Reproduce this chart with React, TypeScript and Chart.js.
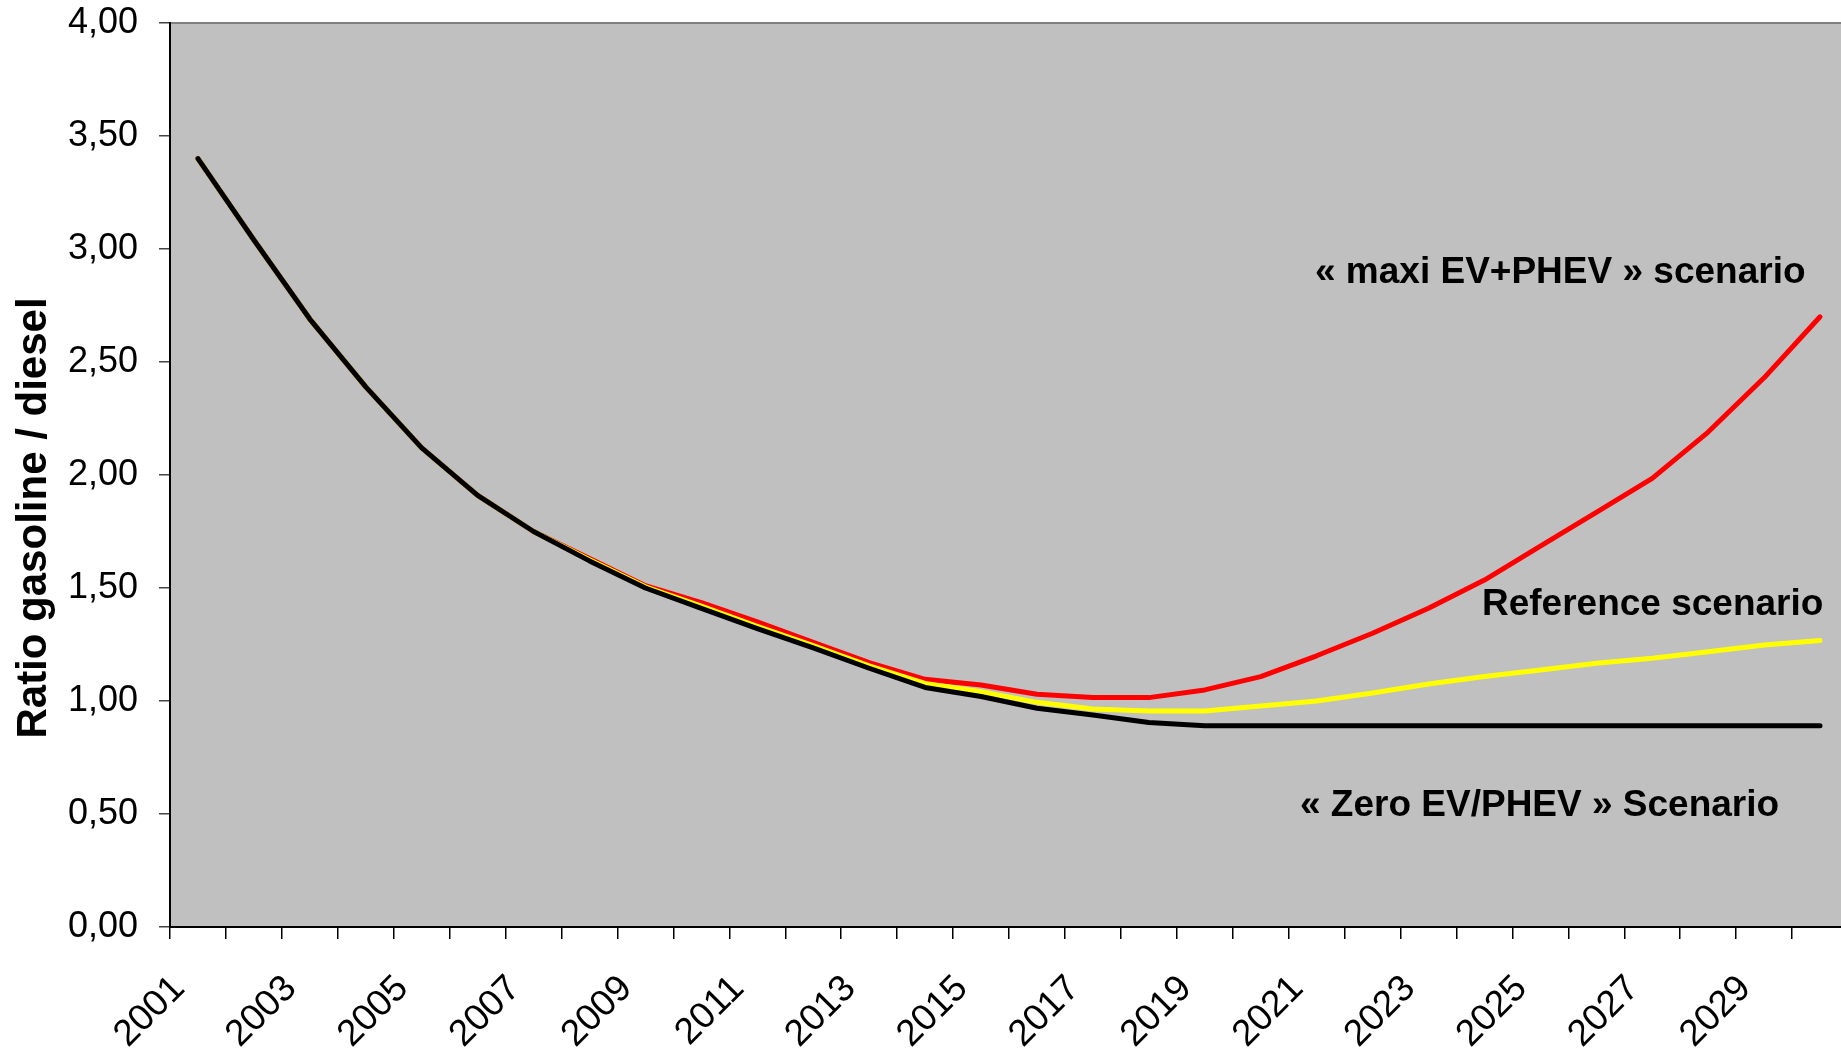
import React, { useEffect, useRef } from "react";
import { Chart, registerables } from "chart.js";

Chart.register(...registerables);

const years = [
  "2001", "2002", "2003", "2004", "2005", "2006", "2007", "2008", "2009", "2010",
  "2011", "2012", "2013", "2014", "2015", "2016", "2017", "2018", "2019", "2020",
  "2021", "2022", "2023", "2024", "2025", "2026", "2027", "2028", "2029", "2030",
];

const zeroScenario = [
  3.40, 3.04, 2.69, 2.39, 2.12, 1.91, 1.75, 1.62, 1.50, 1.41,
  1.32, 1.235, 1.145, 1.06, 1.02, 0.968, 0.938, 0.905, 0.89, 0.89,
  0.89, 0.89, 0.89, 0.89, 0.89, 0.89, 0.89, 0.89, 0.89, 0.89,
];

const referenceScenario = [
  3.40, 3.04, 2.69, 2.39, 2.12, 1.91, 1.75, 1.625, 1.505, 1.42,
  1.33, 1.245, 1.155, 1.078, 1.041, 0.994, 0.965, 0.956, 0.956, 0.978,
  1.00, 1.035, 1.075, 1.108, 1.137, 1.167, 1.189, 1.218, 1.248, 1.268,
];

const maxiScenario = [
  3.40, 3.04, 2.69, 2.39, 2.12, 1.91, 1.75, 1.63, 1.51, 1.435,
  1.35, 1.26, 1.17, 1.096, 1.071, 1.03, 1.016, 1.015, 1.049, 1.108,
  1.20, 1.30, 1.41, 1.535, 1.685, 1.835, 1.985, 2.19, 2.43, 2.70,
];

const yAxisTitle = "Ratio gasoline / diesel";
const labelMaxi = "\u00AB maxi EV+PHEV \u00BB scenario";
const labelReference = "Reference scenario";
const labelZero = "\u00AB Zero EV/PHEV \u00BB Scenario";

const FONT = "'Liberation Sans', Arial, sans-serif";
const CANVAS_W = 1848;
const CANVAS_H = 1054;

const decorPlugin = {
  id: "decor",
  beforeDraw(chart: any) {
    const { ctx, chartArea } = chart;
    ctx.save();
    ctx.fillStyle = "#C0C0C0";
    ctx.fillRect(chartArea.left, chartArea.top, chartArea.right - chartArea.left, chartArea.bottom - chartArea.top);
    ctx.strokeStyle = "#808080";
    ctx.lineWidth = 2;
    ctx.beginPath();
    ctx.moveTo(chartArea.left, chartArea.top);
    ctx.lineTo(chartArea.right, chartArea.top);
    ctx.stroke();
    ctx.restore();
  },
  afterDraw(chart: any) {
    const { ctx, chartArea } = chart;
    ctx.save();
    ctx.fillStyle = "#000";
    ctx.font = `bold 42px ${FONT}`;
    ctx.textAlign = "center";
    ctx.textBaseline = "alphabetic";
    ctx.translate(46, (chartArea.top + chartArea.bottom) / 2 + 43);
    ctx.rotate(-Math.PI / 2);
    ctx.fillText(yAxisTitle, 0, 0);
    ctx.restore();

    ctx.save();
    ctx.fillStyle = "#000";
    ctx.font = `bold 37px ${FONT}`;
    ctx.textAlign = "left";
    ctx.textBaseline = "alphabetic";
    ctx.fillText(labelMaxi, 1315, 283);
    ctx.fillText(labelReference, 1482, 615);
    ctx.fillText(labelZero, 1300, 816);
    ctx.restore();
  },
};

export default function App() {
  const canvasRef = useRef<HTMLCanvasElement | null>(null);

  useEffect(() => {
    if (!canvasRef.current) return;
    const lineStyle = {
      borderWidth: 5,
      pointRadius: 0,
      tension: 0,
      borderCapStyle: "round" as const,
      borderJoinStyle: "round" as const,
      fill: false,
    };
    const chart = new Chart(canvasRef.current, {
      type: "line",
      data: {
        labels: years,
        datasets: [
          { label: "Zero", data: zeroScenario, borderColor: "#000000", order: 0, ...lineStyle },
          { label: "Reference", data: referenceScenario, borderColor: "#FFFF00", order: 1, ...lineStyle },
          { label: "Maxi", data: maxiScenario, borderColor: "#FF0000", order: 2, ...lineStyle },
        ],
      },
      options: {
        animation: false,
        responsive: false,
        devicePixelRatio: 1,
        layout: { padding: { top: 23, right: 0, left: 0, bottom: 0 } },
        plugins: {
          legend: { display: false },
          tooltip: { enabled: false },
        },
        scales: {
          x: {
            type: "category",
            offset: true,
            grid: {
              offset: true,
              drawOnChartArea: false,
              drawTicks: true,
              tickLength: 12,
              color: "#000",
              lineWidth: 1.5,
            },
            border: { display: true, color: "#000", width: 2 },
            ticks: {
              autoSkip: false,
              minRotation: 45,
              maxRotation: 45,
              padding: 28,
              labelOffset: -19,
              color: "#000",
              font: { family: FONT, size: 37 },
              callback: function (_v: any, index: number) {
                return index % 2 === 0 ? years[index] : "";
              },
            },
            afterFit(scale: any) {
              scale.height = CANVAS_H - 927;
              scale.paddingLeft = 0;
              scale.paddingRight = 0;
            },
          },
          y: {
            min: 0,
            max: 4,
            grid: {
              drawOnChartArea: false,
              drawTicks: true,
              tickLength: 11,
              color: "#444",
              lineWidth: 1.5,
            },
            border: { display: true, color: "#000", width: 2 },
            ticks: {
              stepSize: 0.5,
              padding: 21,
              color: "#000",
              font: { family: FONT, size: 36 },
              callback: (v: any) => Number(v).toFixed(2).replace(".", ","),
            },
            afterFit(scale: any) {
              scale.width = 170;
              scale.paddingTop = 0;
              scale.paddingBottom = 0;
            },
          },
        },
      },
      plugins: [decorPlugin],
    });
    return () => chart.destroy();
  }, []);

  return (
    <div style={{ position: "absolute", left: 0, top: 0, width: 1841, height: CANVAS_H, overflow: "hidden", background: "#fff" }}>
      <canvas ref={canvasRef} width={CANVAS_W} height={CANVAS_H} style={{ width: CANVAS_W, height: CANVAS_H, display: "block" }} />
    </div>
  );
}
